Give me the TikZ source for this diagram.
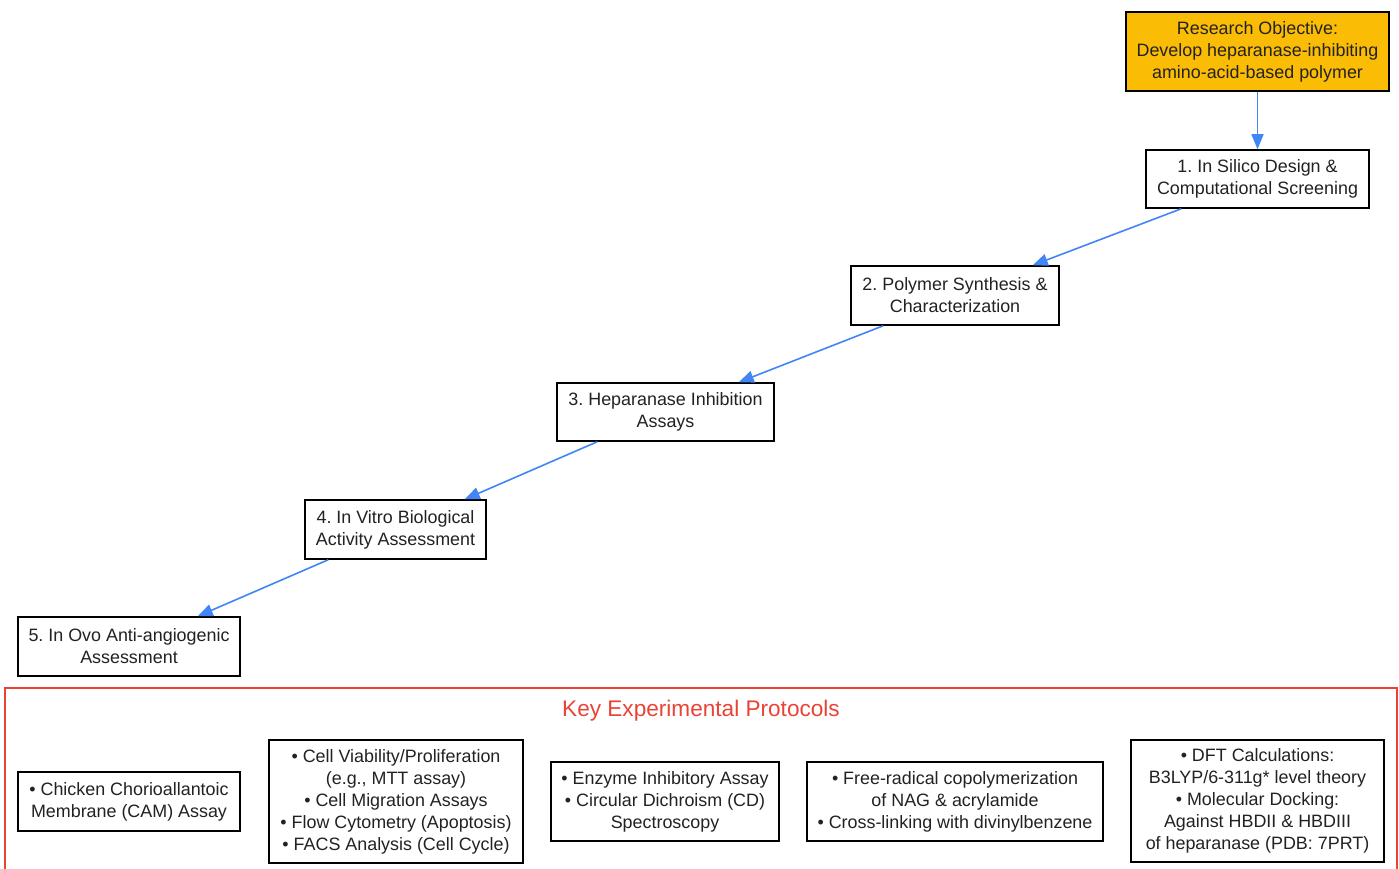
\documentclass[tikz,border=0pt]{standalone}
\usepackage{fontspec}
\setmainfont{Liberation Sans}
\usetikzlibrary{arrows.meta}
\definecolor{gyellow}{HTML}{FBBC05}
\definecolor{gblue}{HTML}{4285F4}
\definecolor{gred}{HTML}{EA4335}
\definecolor{txt}{HTML}{222222}
\frenchspacing
\tikzset{
  stepbox/.style={draw=black, line width=1.5pt, fill=white, align=center, inner sep=0pt,
    text=txt, font=\fontsize{17.9}{22}\selectfont},
  flow/.style={draw=gblue, line width=1.6pt, -{Triangle[length=15pt,width=12pt]}},
}
\begin{document}
\begin{tikzpicture}[x=1pt,y=-1pt]
\useasboundingbox (0,0) rectangle (1399,869);
\fill[white] (0,0) rectangle (1399,869);
% frame
\draw[gred, line width=1.2pt] (5,688) rectangle (1397,890);
\node[text=gred, font=\fontsize{22.6}{26}\selectfont] (title) at (701,710.5) {Key Experimental Protocols};

\node[stepbox, fill=gyellow, minimum width=263pt, minimum height=79pt] (obj) at (1257.5,51.5)
  {Research Objective:\\Develop heparanase-inhibiting\\amino-acid-based polymer};
\node[stepbox, minimum width=223pt, minimum height=58pt] (b1) at (1257.5,179)
  {1. In Silico Design \&\\Computational Screening};
\node[stepbox, minimum width=208pt, minimum height=59pt] (b2) at (955,295.5)
  {2. Polymer Synthesis \&\\Characterization};
\node[stepbox, minimum width=217pt, minimum height=58pt] (b3) at (665.5,412)
  {3. Heparanase Inhibition\\Assays};
\node[stepbox, minimum width=181pt, minimum height=59pt] (b4) at (395.5,529.5)
  {4. In Vitro Biological\\Activity Assessment};
\node[stepbox, minimum width=222pt, minimum height=59pt] (b5) at (129,646.5)
  {5. In Ovo Anti-angiogenic\\Assessment};

\draw[flow] (obj.south) -- (b1.north);
\draw[flow] ([xshift=36pt]b1.south west) -- ([xshift=-27pt]b2.north east);
\draw[flow] ([xshift=33pt]b2.south west) -- ([xshift=-36pt]b3.north east);
\draw[flow] ([xshift=41pt]b3.south west) -- ([xshift=-22pt]b4.north east);
\draw[flow] ([xshift=24pt]b4.south west) -- ([xshift=-43pt]b5.north east);

\node[stepbox, minimum width=222pt, minimum height=59pt] (cam) at (129,801.5)
  {• Chicken Chorioallantoic\\Membrane (CAM) Assay};
\node[stepbox, minimum width=254pt, minimum height=123pt] (cell) at (396,801.5)
  {• Cell Viability/Proliferation\\(e.g., MTT assay)\\• Cell Migration Assays\\• Flow Cytometry (Apoptosis)\\• FACS Analysis (Cell Cycle)};
\node[stepbox, minimum width=228pt, minimum height=79pt] (enz) at (665,801.5)
  {• Enzyme Inhibitory Assay\\• Circular Dichroism (CD)\\Spectroscopy};
\node[stepbox, minimum width=296pt, minimum height=79pt] (frp) at (955,801.5)
  {• Free-radical copolymerization\\of NAG \& acrylamide\\• Cross-linking with divinylbenzene};
\node[stepbox, minimum width=253pt, minimum height=122pt] (dft) at (1257.5,801)
  {• DFT Calculations:\\B3LYP/6-311g* level theory\\• Molecular Docking:\\Against HBDII \& HBDIII\\of heparanase (PDB: 7PRT)};
\end{tikzpicture}
\end{document}
